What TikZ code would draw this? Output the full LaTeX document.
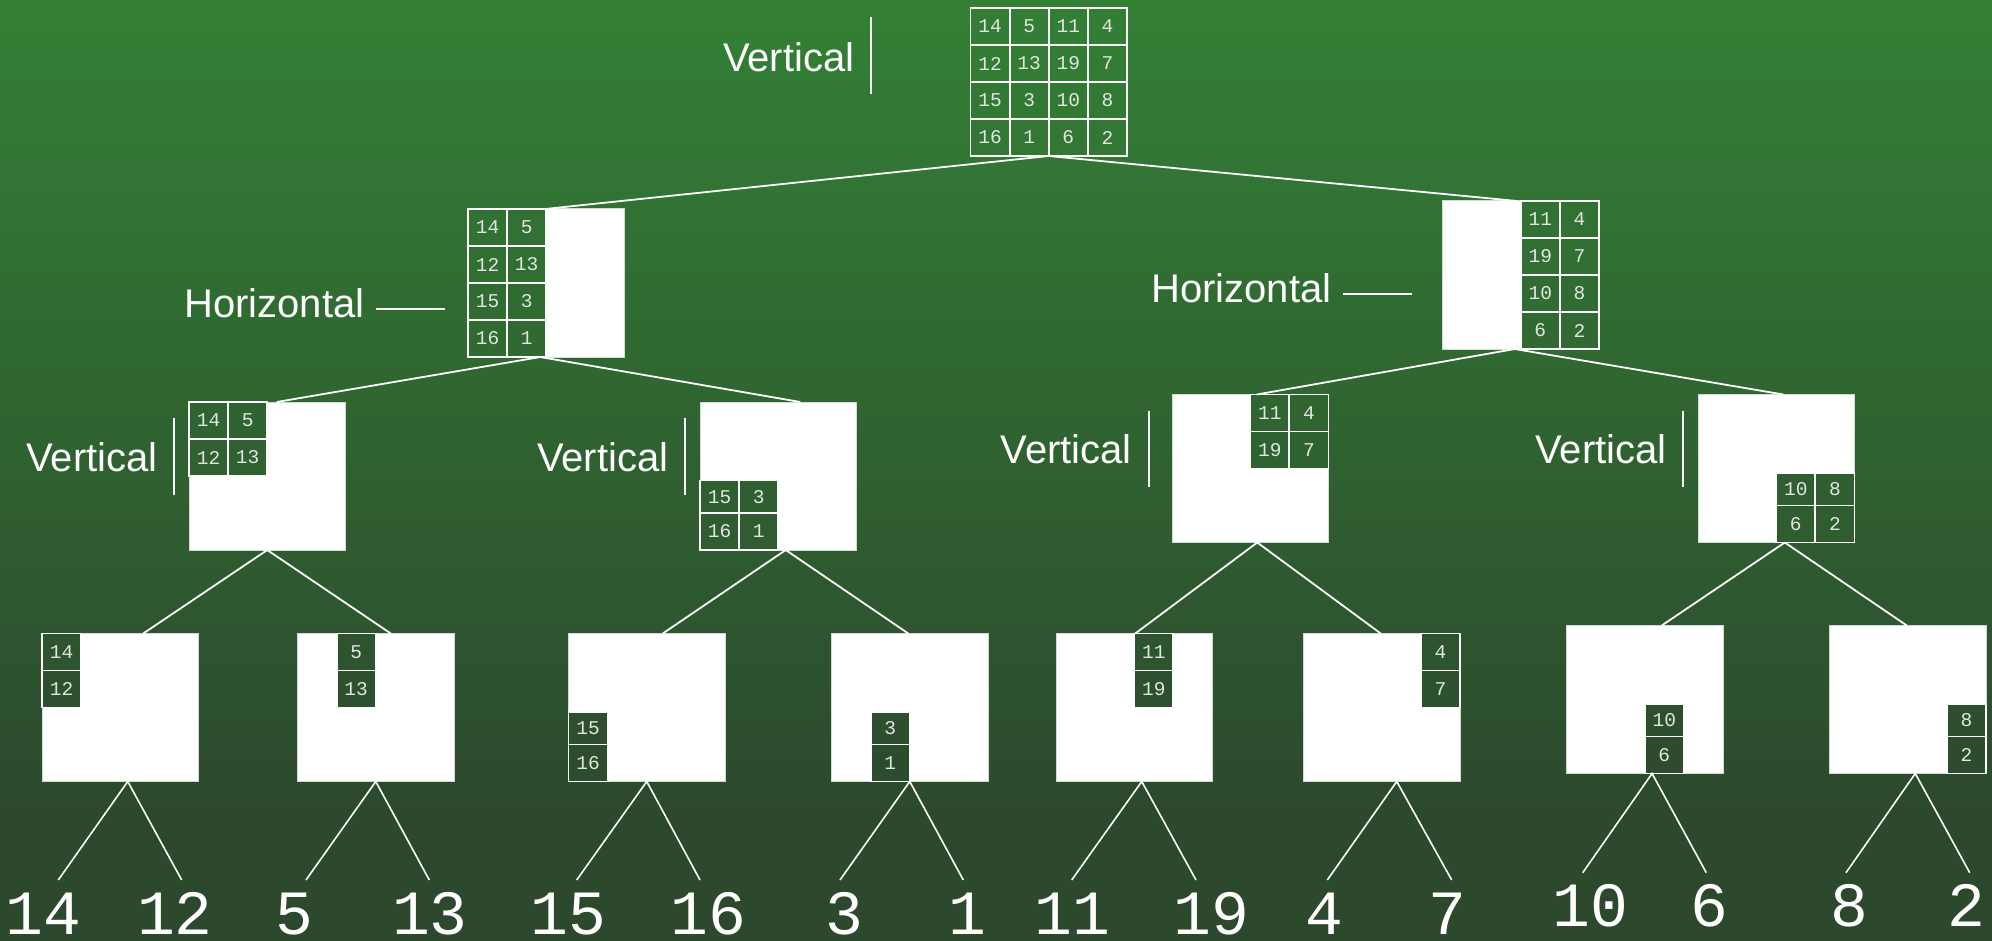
\documentclass[tikz,border=0pt]{standalone}
\usepackage{fontspec}
\setmainfont{Liberation Sans}
\newfontfamily\monofont{Liberation Mono}

\definecolor{bgtop}{RGB}{51,128,53}
\definecolor{bgbot}{RGB}{44,72,45}
\definecolor{celltext}{RGB}{226,230,226}
\definecolor{boxline}{RGB}{212,218,212}

% values of the 4x4 matrix, row by row
\newcommand\cellval[1]{\ifcase#1 14\or 5\or 11\or 4\or 12\or 13\or 19\or 7\or 15\or 3\or 10\or 8\or 16\or 1\or 6\or 2\fi}

\tikzset{
  cellbox/.style={draw=white, line width=1.8pt, inner sep=0pt, outer sep=0pt,
    minimum width=39.125pt, text=celltext, font=\monofont\fontsize{19.5}{19.5}\selectfont},
  blockbox/.style={fill=white, draw=boxline, line width=1pt, inner sep=0pt, outer sep=0pt,
    minimum width=156.5pt, minimum height=148pt, anchor=north west},
  gridframe/.style={inner sep=0pt, outer sep=0pt, minimum width=156.5pt,
    minimum height=148pt, anchor=north west},
  link/.style={white, line width=1.8pt},
  leafline/.style={white, line width=1.6pt},
  bar/.style={white, line width=1.8pt},
  lab/.style={text=white, inner sep=0pt, font=\fontsize{40}{40}\selectfont, anchor=base east},
  leaf/.style={text=white, inner sep=0pt, font=\monofont\fontsize{63}{63}\selectfont, anchor=base},
}

% #1 name prefix, #2 left, #3 top, #4 columns, #5 rows, #6 extra top inset of row 2
\newcommand\cellblock[6]{%
  \foreach \ci in {#4}{%
    \foreach \ri in {#5}{%
      \pgfmathsetmacro\cx{#2+\ci*39.125}%
      \pgfmathsetmacro\cy{#3+\ri*37+ifthenelse(\ri==2,#6,0)}%
      \pgfmathsetmacro\ch{37-ifthenelse(\ri==2,#6,0)}%
      \pgfmathtruncatemacro\k{\ri*4+\ci}%
      \pgfmathtruncatemacro\cp{min(100,(\cy+\ch/2)*0.12195)}%
      \node[cellbox, fill=bgbot!\cp!bgtop, minimum height=\ch pt, anchor=north west]
        (#1-\ri-\ci) at (\cx,\cy) {\cellval{\k}};
    }%
  }%
}

\begin{document}
\begin{tikzpicture}[x=1pt, y=-1pt]
\useasboundingbox (0,0) rectangle (1992,941);

% background gradient
\foreach \s in {0,...,188}{
  \pgfmathtruncatemacro\bp{min(100,\s*0.60976)}
  \fill[bgbot!\bp!bgtop] (0,\s*5) rectangle (1992,\s*5+5.6);
}

% root matrix
\node[gridframe] (T) at (970.5,8) {};
\cellblock{T}{970.5}{8}{0,1,2,3}{0,1,2,3}{0}

% first split
\node[blockbox] (L) at (468,209) {};
\cellblock{L}{468}{209}{0,1}{0,1,2,3}{0}
\node[blockbox] (R) at (1442.5,201) {};
\cellblock{R}{1442.5}{201}{2,3}{0,1,2,3}{0}

% second split
\node[blockbox] (A) at (189,402) {};
\cellblock{A}{189}{402}{0,1}{0,1}{0}
\node[blockbox] (B) at (700,402) {};
\cellblock{B}{700}{402}{0,1}{2,3}{4.5}
\node[blockbox] (C) at (1172,394.5) {};
\cellblock{C}{1172}{394.5}{2,3}{0,1}{0}
\node[blockbox] (D) at (1698,394.5) {};
\cellblock{D}{1698}{394.5}{2,3}{2,3}{4.5}

% third split
\node[blockbox] (A1) at (42,633.5) {};
\cellblock{A1}{42}{633.5}{0}{0,1}{0}
\node[blockbox] (A2) at (297.5,633.5) {};
\cellblock{A2}{297.5}{633.5}{1}{0,1}{0}
\node[blockbox] (B1) at (568.5,633.5) {};
\cellblock{B1}{568.5}{633.5}{0}{2,3}{4.5}
\node[blockbox] (B2) at (831.5,633.5) {};
\cellblock{B2}{831.5}{633.5}{1}{2,3}{4.5}
\node[blockbox] (C1) at (1056,633.5) {};
\cellblock{C1}{1056}{633.5}{2}{0,1}{0}
\node[blockbox] (C2) at (1303.5,633.5) {};
\cellblock{C2}{1303.5}{633.5}{3}{0,1}{0}
\node[blockbox] (D1) at (1566.5,625.5) {};
\cellblock{D1}{1566.5}{625.5}{2}{2,3}{4.5}
\node[blockbox] (D2) at (1829.5,625.5) {};
\cellblock{D2}{1829.5}{625.5}{3}{2,3}{4.5}

% tree edges
\draw[link] (T.south) -- ([xshift=-1pt]L.north);
\draw[link] (T.south) -- ([xshift=-4pt]R.north);
\draw[link] ([xshift=-6pt]L.south) -- ([xshift=9.5pt]A.north);
\draw[link] ([xshift=-6pt]L.south) -- ([xshift=22pt]B.north);
\draw[link] ([xshift=-6pt]R.south) -- ([xshift=6.5pt]C.north);
\draw[link] ([xshift=-6pt]R.south) -- ([xshift=7pt]D.north);
\draw[link] (A.south) -- ([xshift=23pt]A1.north);
\draw[link] (A.south) -- ([xshift=15pt]A2.north);
\draw[link] ([xshift=7.5pt]B.south) -- ([xshift=16pt]B1.north);
\draw[link] ([xshift=7.5pt]B.south) -- ([xshift=-1.5pt]B2.north);
\draw[link] ([xshift=7pt]C.south) -- ([xshift=1pt]C1.north);
\draw[link] ([xshift=7pt]C.south) -- ([xshift=-1pt]C2.north);
\draw[link] ([xshift=8.5pt]D.south) -- ([xshift=17pt]D1.north);
\draw[link] ([xshift=8.5pt]D.south) -- ([xshift=-1pt]D2.north);

% split labels
\node[lab] (v0) at (854.5,71.7) {Vertical};
\draw[bar] (871,17) -- (871,94);
\node[lab] (h1) at (364.5,318) {Horizontal};
\draw[bar] (376,309.3) -- (444.7,309.3);
\node[lab] (h2) at (1331.5,302.3) {Horizontal};
\draw[bar] (1343.3,294.3) -- (1412.3,294.3);
\node[lab] (v1) at (157.7,471.7) {Vertical};
\draw[bar] (174.3,418) -- (174.3,495);
\node[lab] (v2) at (668.4,471.7) {Vertical};
\draw[bar] (685,418) -- (685,495);
\node[lab] (v3) at (1132,463.3) {Vertical};
\draw[bar] (1149.3,410.7) -- (1149.3,486.7);
\node[lab] (v4) at (1666.7,463.3) {Vertical};
\draw[bar] (1683.3,410.7) -- (1683.3,486.7);

% leaves
\node[leaf] (n14) at (43.3,934) {14};
\node[leaf] (n12) at (175,934) {12};
\node[leaf] (n5) at (294,934) {5};
\node[leaf] (n13) at (430,934) {13};
\node[leaf] (n15) at (568.7,934) {15};
\node[leaf] (n16) at (708.3,934) {16};
\node[leaf] (n3) at (844.3,934) {3};
\node[leaf] (n1) at (967.5,934) {1};
\node[leaf] (n11) at (1072.2,934) {11};
\node[leaf] (n19) at (1211.7,934) {19};
\node[leaf] (n4) at (1324.2,934) {4};
\node[leaf] (n7) at (1447.5,934) {7};
\node[leaf] (n10) at (1590.3,926.7) {10};
\node[leaf] (n6) at (1709.8,926.7) {6};
\node[leaf] (n8) at (1849.5,926.7) {8};
\node[leaf] (n2) at (1966.8,926.7) {2};

% free ends of the leaf edges, just above each number
\coordinate (e14) at (58.3,880);
\coordinate (e12) at (181.7,880);
\coordinate (e5) at (306,880);
\coordinate (e13) at (429.3,880);
\coordinate (e15) at (576.7,880);
\coordinate (e16) at (700,880);
\coordinate (e3) at (840,880);
\coordinate (e1) at (963.3,880);
\coordinate (e11) at (1071.7,880);
\coordinate (e19) at (1196,880);
\coordinate (e4) at (1327.3,880);
\coordinate (e7) at (1451.7,880);
\coordinate (e10) at (1582.7,872.7);
\coordinate (e6) at (1706.3,872.7);
\coordinate (e8) at (1846,872.7);
\coordinate (e2) at (1969.7,872.7);

\draw[leafline] (e14) -- ([xshift=7.5pt]A1.south) -- (e12);
\draw[leafline] (e5) -- (A2.south) -- (e13);
\draw[leafline] (e15) -- (B1.south) -- (e16);
\draw[leafline] (e3) -- (B2.south) -- (e1);
\draw[leafline] (e11) -- ([xshift=7.5pt]C1.south) -- (e19);
\draw[leafline] (e4) -- ([xshift=15pt]C2.south) -- (e7);
\draw[leafline] (e10) -- ([xshift=7.3pt]D1.south) -- (e6);
\draw[leafline] (e8) -- ([xshift=7.5pt]D2.south) -- (e2);
\end{tikzpicture}
\end{document}
